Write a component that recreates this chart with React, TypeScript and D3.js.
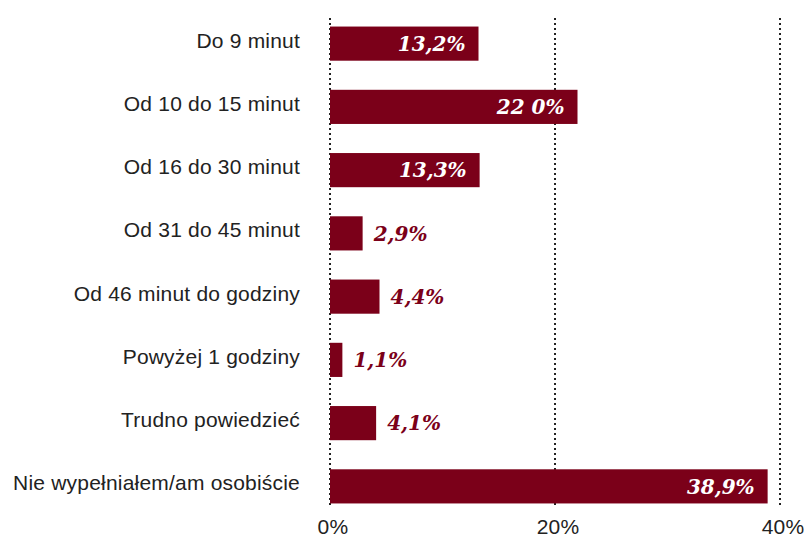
import React from "react";
import * as d3 from "d3";

const categories = [
  "Do 9 minut",
  "Od 10 do 15 minut",
  "Od 16 do 30 minut",
  "Od 31 do 45 minut",
  "Od 46 minut do godziny",
  "Powyżej 1 godziny",
  "Trudno powiedzieć",
  "Nie wypełniałem/am osobiście",
];
const values = [13.2, 22.0, 13.3, 2.9, 4.4, 1.1, 4.1, 38.9];
const valueLabels = ["13,2%", "22 0%", "13,3%", "2,9%", "4,4%", "1,1%", "4,1%", "38,9%"];
const ticks = [0, 20, 40];

const W = 804;
const H = 540;
const RED = "#7b0019";
const SANS = "Liberation Sans, Arial, sans-serif";

export default function App() {
  const x = d3.scaleLinear().domain([0, 40]).range([330, 780]);
  const y = d3.scaleBand<string>().domain(categories).range([12, 518]).paddingInner(0.46).paddingOuter(0.23);
  return (
    <svg width={W} height={H} style={{ position: "absolute", left: 0, top: 0 }}>
      {ticks.map((t) => (
        <line key={"g" + t} x1={x(t)} x2={x(t)} y1={18} y2={505} stroke="#222" strokeWidth={2} strokeDasharray="2,3" />
      ))}
      {categories.map((c, i) => {
        const yy = y(c)!;
        const bw = y.bandwidth();
        const xe = x(values[i]);
        const inside = values[i] > 10;
        return (
          <g key={c}>
            <rect x={x(0)} y={yy} width={xe - x(0)} height={bw} fill={RED} />
            <text x={300} y={yy + bw / 2 + 4} textAnchor="end" fontFamily={SANS} fontSize={21} letterSpacing={0.2} fill="#222">
              {c}
            </text>
            <text
              x={inside ? xe - 13 : xe + 11}
              y={yy + bw / 2}
              dy="0.36em"
              textAnchor={inside ? "end" : "start"}
              fontFamily="DejaVu Serif, serif"
              fontStyle="italic"
              fontWeight="bold"
              fontSize={20}
              fill={inside ? "#fff" : RED}
            >
              {valueLabels[i]}
            </text>
          </g>
        );
      })}
      {ticks.map((t) => (
        <text key={"t" + t} x={x(t) + 3} y={534} textAnchor="middle" fontFamily={SANS} fontSize={21} letterSpacing={0.2} fill="#222">
          {t + "%"}
        </text>
      ))}
    </svg>
  );
}
